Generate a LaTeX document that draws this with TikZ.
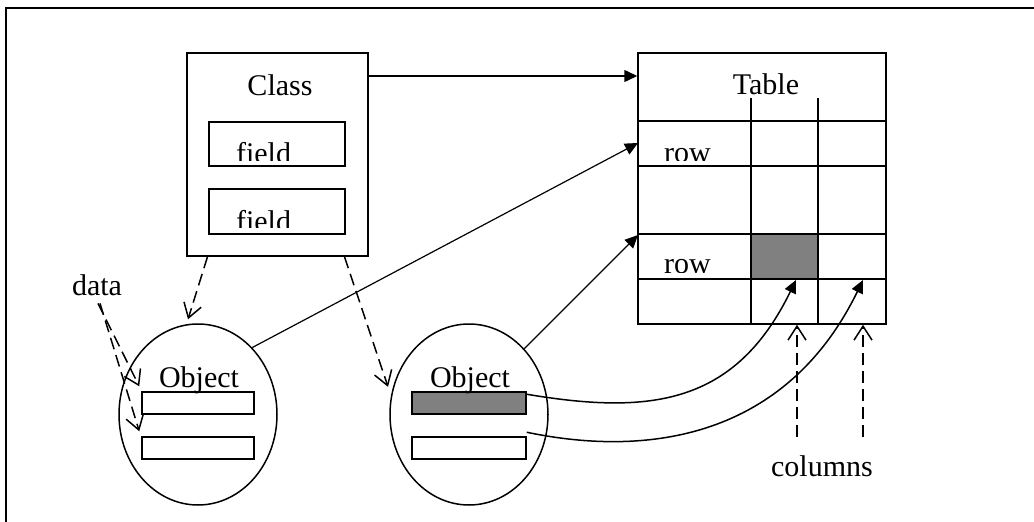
\documentclass[tikz,border=0pt]{standalone}
\usepackage{fontspec}
\setmainfont{Liberation Serif}
\usetikzlibrary{shapes.geometric,arrows.meta}
\tikzset{
  box/.style = {draw, inner sep = 0pt},
  ell/.style = {draw, shape = ellipse, inner sep = 0pt, minimum width = 158, minimum height = 181},
  tip/.style = {-{Triangle[length = 13pt, width = 12pt]}},
  barb/.style = {dash pattern = on 12pt off 6pt, -{Straight Barb[length = 14pt, width = 18pt]}}
}
\begin{document}
\begin{tikzpicture}[x = 1pt, y = -1pt, line width = 1.5pt, font = \fontsize{30}{36}\selectfont]
\useasboundingbox (0,0) rectangle (1034,522);
\draw (6,540) -- (6,8) -- (1050,8);
% class
\node at (277.5,154.5) [box, minimum width = 181, minimum height = 203](C){};
\node at (280,95) [anchor = base](Ct){Class};
\node at (277,144) [box, minimum width = 136, minimum height = 44](F1){};
\node at (277,211.5) [box, minimum width = 136, minimum height = 45](F2){};
\begin{scope}
\clip (F1.north west) rectangle ([yshift = 6pt]F1.south east);
\node at (232,163) [anchor = base west](F1t){field};
\end{scope}
\begin{scope}
\clip (F2.north west) rectangle ([yshift = 7pt]F2.south east);
\node at (232,231) [anchor = base west](F2t){field};
\end{scope}
% table
\node at (762,188.5) [box, minimum width = 248, minimum height = 271](T){};
\node at (766,94) [anchor = base](Tt){Table};
\fill[black!50] (751,234) rectangle (818,279);
\foreach \y in {121,166,234} \draw (T.west |- 0,\y) -- (T.east |- 0,\y);
\draw[line width = 2pt] (T.west |- 0,279) -- (T.east |- 0,279);
\foreach \x in {751,818} \draw (\x,98) -- (T.south -| \x,0);
\begin{scope}
\clip (638,121) rectangle (751,160);
\node at (660,162) [anchor = base west](R1t){row};
\end{scope}
\begin{scope}
\clip (638,234) rectangle (751,272);
\node at (660,273) [anchor = base west](R2t){row};
\end{scope}
% objects
\node at (198,414.5) [ell](O1){};
\node at (469,414.5) [ell](O2){};
\node at (198,403) [box, minimum width = 112, minimum height = 22](B1){};
\node at (198,448) [box, minimum width = 112, minimum height = 22](B2){};
\node at (469,403) [box, fill = black!50, minimum width = 114, minimum height = 22](B3){};
\node at (469,448) [box, minimum width = 114, minimum height = 22](B4){};
\node at (199,387) [anchor = base](O1t){Object};
\node at (470,387) [anchor = base](O2t){Object};
\node at (97,295) [anchor = base](D){data};
\node at (822,476) [anchor = base](Cl){columns};
\coordinate (row1) at (638,143);
\coordinate (row2) at (638,235);
\coordinate (cellA) at (796,280);
\coordinate (cellB) at (863,280);
\coordinate (colA) at (797,437);
\coordinate (colB) at (863,437);
% links
\draw[tip] (C.east |- 0,76) -- (T.west |- 0,76);
\draw[tip, line width = 1.2pt] (O1.51) -- (row1);
\draw[tip, line width = 1.2pt] (O2.50) -- (row2);
\draw[tip] ([yshift = -3pt]B3.north east) .. controls (650,415) and (735,405) .. (cellA);
\draw[tip] ([yshift = 4pt]B4.north east) .. controls (660,460) and (790,430) .. (cellB);
\draw[barb] ([xshift = -70pt]C.south) -- ([xshift = -10pt, yshift = 4pt]O1.north);
\draw[barb] ([xshift = 67pt]C.south) -- ([xshift = -5pt]O2.160);
\draw[barb] ([xshift = 1pt, yshift = -4pt]D.south) -- ([shift = {(-2pt,5pt)}]B1.north west);
\draw[barb] ([xshift = 3pt, yshift = -4pt]D.south) -- ([shift = {(-2pt,5pt)}]B2.north west);
\draw[barb] (colA) -- (colA |- T.south);
\draw[barb] (colB) -- (colB |- T.south);
\end{tikzpicture}
\end{document}
